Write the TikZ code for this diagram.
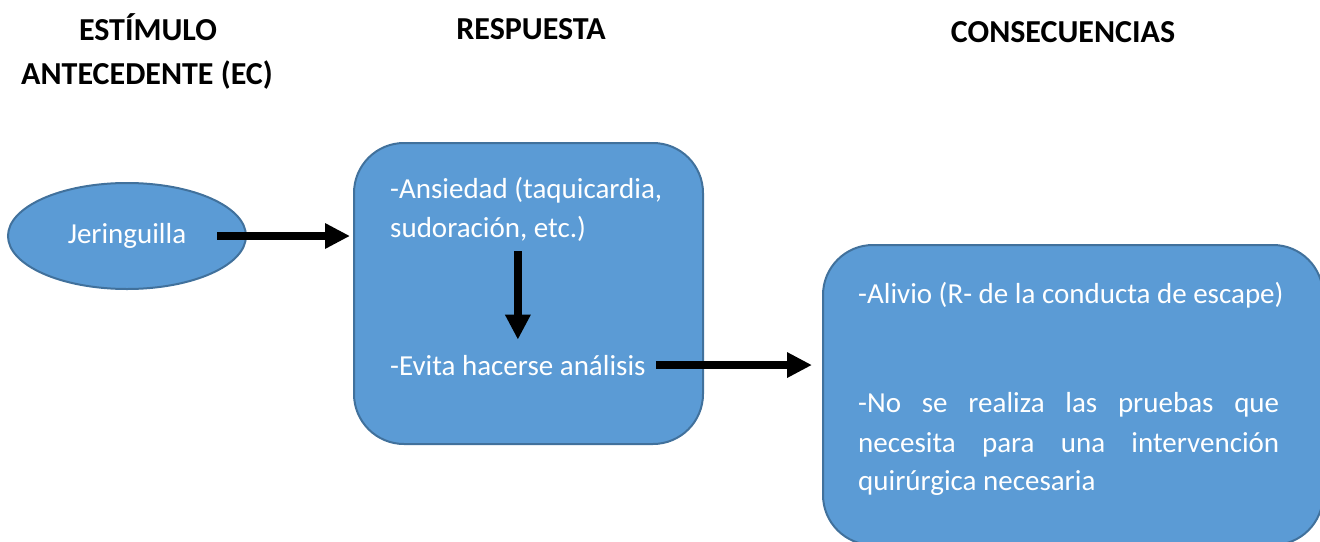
\documentclass[tikz,border=0pt]{standalone}
\usepackage{fontspec}
\setmainfont{Carlito}
\usetikzlibrary{shapes.geometric,arrows.meta}
\definecolor{boxfill}{HTML}{5B9BD5}
\definecolor{boxline}{HTML}{41719C}
\tikzset{
  shapebox/.style={draw=boxline, fill=boxfill, line width=2pt},
  roundbox/.style={shapebox, rectangle, rounded corners=50pt},
  txt/.style={inner sep=0pt, text=white, font=\fontsize{29}{35}\selectfont},
  head/.style={inner sep=0pt, anchor=base, font=\fontsize{32}{38}\selectfont\bfseries},
  arr/.style={line width=7.5pt, -{Triangle[length=25pt,width=24pt]}},
}
\begin{document}
\begin{tikzpicture}[x=1pt,y=-1pt]
\useasboundingbox (0,0) rectangle (1320,541);
\clip (0,0) rectangle (1320,541);
% headers
\node[head] (h1) at (148,40) {ESTÍMULO};
\node[head] (h2) at (147,84) {ANTECEDENTE (EC)};
\node[head] (h3) at (531,39) {RESPUESTA};
\node[head] (h4) at (1063,42) {CONSECUENCIAS};
% shapes
\node[shapebox, ellipse, minimum width=238pt, minimum height=106pt] (e) at (127,236) {};
\node[roundbox, minimum width=349pt, minimum height=301pt] (m) at (528.5,293.5) {};
\node[roundbox, minimum width=500pt, minimum height=300pt] (r) at (1073,395) {};
% texts
\node[txt] (jt) at (e) {Jeringuilla};
\node[txt, anchor=base west] (ans) at (390,198) {-Ansiedad (taquicardia,};
\node[txt, anchor=base west] (sudo) at (390,237) {sudoración, etc.)};
\node[txt, anchor=base west] (evita) at (390,375) {-Evita hacerse análisis};
\node[txt, anchor=base west] (alivio) at (858,303) {-Alivio (R- de la conducta de escape)};
\node[txt, anchor=base west] (no1) at (858,412) {\makebox[421pt][s]{-No se realiza las pruebas que}};
\node[txt, anchor=base west] (no2) at (858,452) {\makebox[421pt][s]{necesita para una intervención}};
\node[txt, anchor=base west] (no3) at (858,490) {quirúrgica necesaria};
% connectors
\draw[arr, shorten <=31pt, shorten >=3pt] (jt.east) -- (m.west |- jt.east);
\draw[arr, shorten <=10pt, shorten >=15pt] (evita.north |- sudo.south) -- (evita.north);
\draw[arr, shorten <=10pt, shorten >=10pt] (evita.east) -- (r.west |- evita.east);
\end{tikzpicture}
\end{document}
